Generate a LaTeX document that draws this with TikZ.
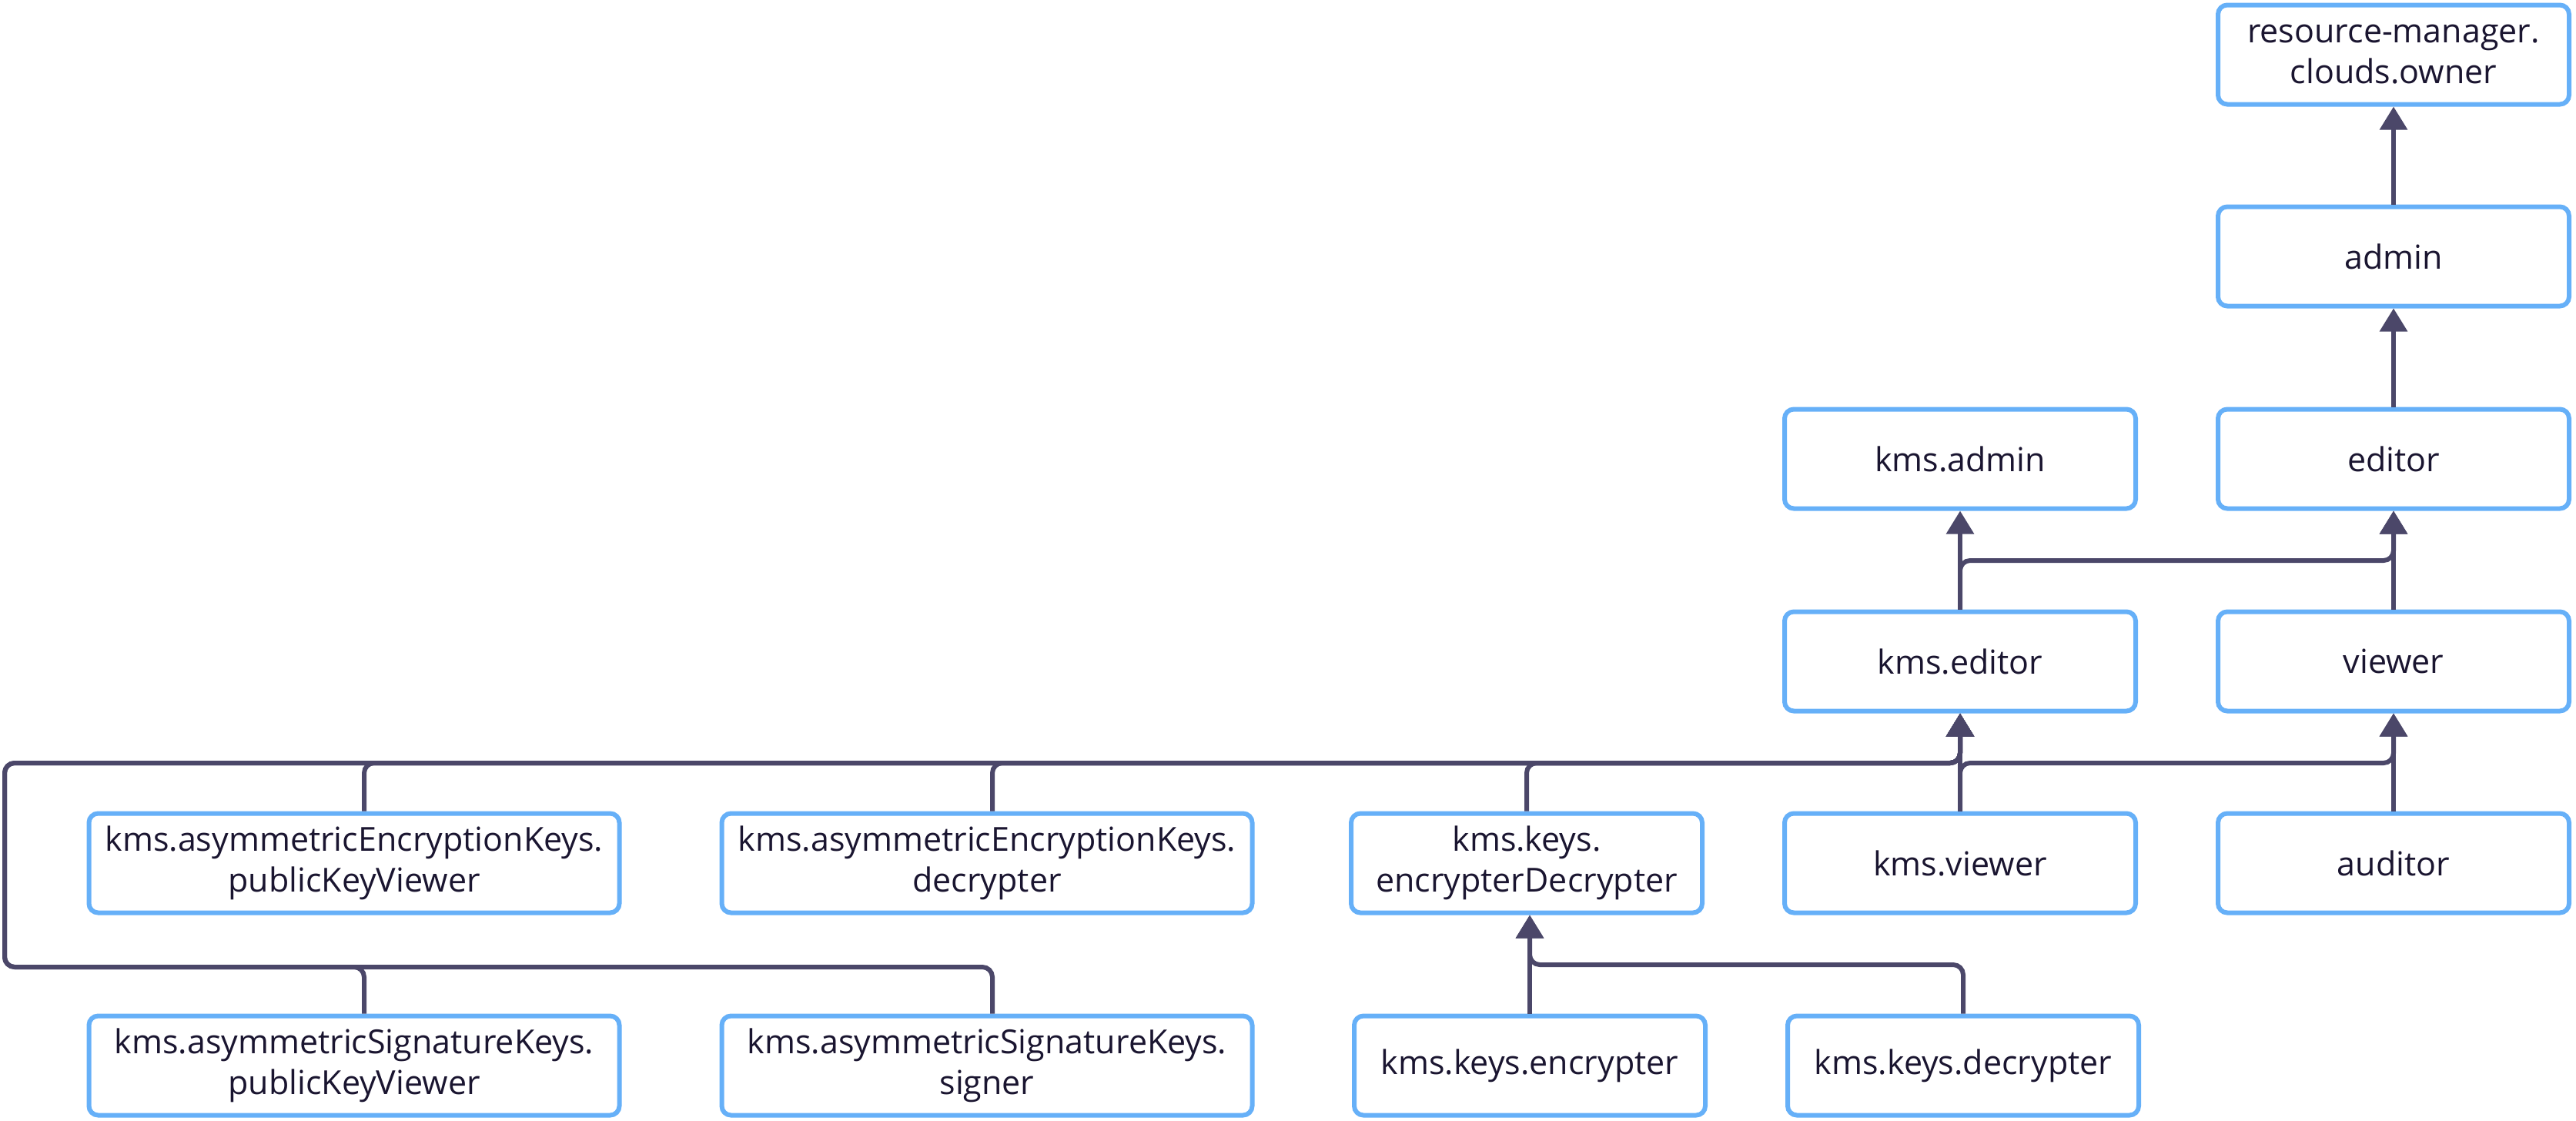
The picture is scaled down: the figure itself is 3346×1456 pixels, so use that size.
\documentclass[tikz,border=0pt]{standalone}
\usepackage{fontspec}
\setmainfont{Open Sans}
\usetikzlibrary{arrows.meta,calc}
\definecolor{lineC}{HTML}{4B4769}
\definecolor{boxC}{HTML}{66B0F8}
\definecolor{txtC}{HTML}{1A1530}
\begin{document}
\begin{tikzpicture}[x=1pt,y=-1pt,
  role/.style={draw=boxC, line width=6pt, rounded corners=12pt, fill=white, text=txtC,
    align=center, minimum height=129pt, inner sep=0pt, font=\fontsize{43}{53}\selectfont},
  sm/.style={role, minimum width=456pt},
  lg/.style={role, minimum width=689pt},
  conn/.style={draw=lineC, line width=6pt, rounded corners=13pt},
  arr/.style={conn, -{Triangle[length=30pt,width=35pt]}}]
\useasboundingbox (0,0) rectangle (3346,1456);
\fill[white] (0,0) rectangle (3346,1456);

\coordinate (ya) at (0,728);
\coordinate (yb) at (0,991);
\coordinate (yc) at (0,1256);
\coordinate (yd) at (0,1253);
\coordinate (xl) at (6,0);

\path (3109,71) node[sm] (rmowner) {resource-manager.\\clouds.owner}
      (3109,333) node[sm] (admin) {admin}
      (3109,596) node[sm] (editor) {editor}
      (3109,859) node[sm] (viewer) {viewer}
      (3109,1121) node[sm] (auditor) {auditor}
      (2546,596) node[sm] (kmsadmin) {kms.admin}
      (2546,859) node[sm] (kmseditor) {kms.editor}
      (2546,1121) node[sm] (kmsviewer) {kms.viewer}
      (1983,1121) node[sm] (encdec) {kms.keys.\\encrypterDecrypter}
      (1987,1384) node[sm] (enc) {kms.keys.encrypter}
      (2550,1384) node[sm] (dec) {kms.keys.decrypter}
      (1282,1121) node[lg] (aekdec) {kms.asymmetricEncryptionKeys.\\decrypter}
      (1282,1384) node[lg] (sksig) {kms.asymmetricSignatureKeys.\\signer}
      (460,1121) node[lg] (aekpkv) {kms.asymmetricEncryptionKeys.\\publicKeyViewer}
      (460,1384) node[lg] (skpkv) {kms.asymmetricSignatureKeys.\\publicKeyViewer};

\draw[arr] (admin) -- (rmowner);
\draw[arr] (editor) -- (admin);
\draw[arr] (kmseditor) -- (kmsadmin);
\draw[arr] (kmseditor.north) |- (editor.south |- ya) -- (editor.south);
\draw[arr] (viewer) -- (editor);
\draw[arr] (kmsviewer) -- (kmseditor);
\draw[arr] (kmsviewer.north) |- (viewer.south |- yb) -- (viewer.south);
\draw[arr] (auditor) -- (viewer);
\draw[arr] ($(aekpkv.north)+(13,0)$) |- (kmseditor.south |- yb) -- (kmseditor.south);
\draw[arr] ($(aekdec.north)+(7,0)$) |- (kmseditor.south |- yb) -- (kmseditor.south);
\draw[arr] (encdec.north) |- (kmseditor.south |- yb) -- (kmseditor.south);
\draw[arr] ($(skpkv.north)+(13,0)$) |- (xl |- yc) |- (kmseditor.south |- yb) -- (kmseditor.south);
\draw[arr] ($(sksig.north)+(7,0)$) |- (xl |- yc) |- (kmseditor.south |- yb) -- (kmseditor.south);
\draw[arr] (enc.north) -- (enc.north |- encdec.south);
\draw[arr] (dec.north) |- (enc.north |- yd) -- (enc.north |- encdec.south);
\end{tikzpicture}
\end{document}
